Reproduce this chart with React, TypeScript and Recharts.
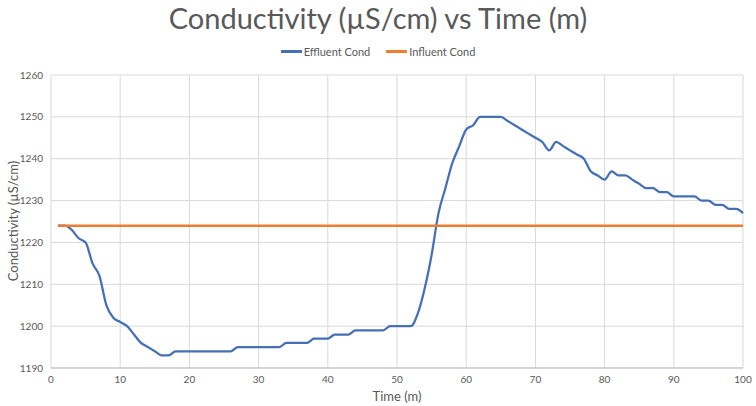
import React from "react";
import { LineChart, Line, XAxis, YAxis, CartesianGrid } from "recharts";

const TITLE = "Conductivity (µS/cm) vs Time (m)";
const X_LABEL = "Time (m)";
const Y_LABEL = "Conductivity (µS/cm)";

const SERIES = ["Effluent Cond", "Influent Cond"];
const COLORS = ["#4570B5", "#ED7D31"];

const TIME = [
  1, 2, 3, 4, 5, 6, 7, 8, 9, 10, 11, 12, 13, 14, 15, 16, 17, 18, 19, 20,
  21, 22, 23, 24, 25, 26, 27, 28, 29, 30, 31, 32, 33, 34, 35, 36, 37, 38, 39, 40,
  41, 42, 43, 44, 45, 46, 47, 48, 49, 50, 51, 52, 53, 54, 55, 56, 57, 58, 59, 60,
  61, 62, 63, 64, 65, 66, 67, 68, 69, 70, 71, 72, 73, 74, 75, 76, 77, 78, 79, 80,
  81, 82, 83, 84, 85, 86, 87, 88, 89, 90, 91, 92, 93, 94, 95, 96, 97, 98, 99, 100,
];

const EFFLUENT = [
  1224, 1224, 1223, 1221, 1220, 1215, 1212, 1205, 1202, 1201,
  1200, 1198, 1196, 1195, 1194, 1193, 1193, 1194, 1194, 1194,
  1194, 1194, 1194, 1194, 1194, 1194, 1195, 1195, 1195, 1195,
  1195, 1195, 1195, 1196, 1196, 1196, 1196, 1197, 1197, 1197,
  1198, 1198, 1198, 1199, 1199, 1199, 1199, 1199, 1200, 1200,
  1200, 1200, 1203, 1209, 1217, 1227, 1233, 1239, 1243, 1247,
  1248, 1250, 1250, 1250, 1250, 1249, 1248, 1247, 1246, 1245,
  1244, 1242, 1244, 1243, 1242, 1241, 1240, 1237, 1236, 1235,
  1237, 1236, 1236, 1235, 1234, 1233, 1233, 1232, 1232, 1231,
  1231, 1231, 1231, 1230, 1230, 1229, 1229, 1228, 1228, 1227,
];

const INFLUENT = [
  1224, 1224, 1224, 1224, 1224, 1224, 1224, 1224, 1224, 1224,
  1224, 1224, 1224, 1224, 1224, 1224, 1224, 1224, 1224, 1224,
  1224, 1224, 1224, 1224, 1224, 1224, 1224, 1224, 1224, 1224,
  1224, 1224, 1224, 1224, 1224, 1224, 1224, 1224, 1224, 1224,
  1224, 1224, 1224, 1224, 1224, 1224, 1224, 1224, 1224, 1224,
  1224, 1224, 1224, 1224, 1224, 1224, 1224, 1224, 1224, 1224,
  1224, 1224, 1224, 1224, 1224, 1224, 1224, 1224, 1224, 1224,
  1224, 1224, 1224, 1224, 1224, 1224, 1224, 1224, 1224, 1224,
  1224, 1224, 1224, 1224, 1224, 1224, 1224, 1224, 1224, 1224,
  1224, 1224, 1224, 1224, 1224, 1224, 1224, 1224, 1224, 1224,
];

const X_TICKS = [0, 10, 20, 30, 40, 50, 60, 70, 80, 90, 100];
const Y_TICKS = [1190, 1200, 1210, 1220, 1230, 1240, 1250, 1260];

const data = TIME.map((t, i) => ({ t, effluent: EFFLUENT[i], influent: INFLUENT[i] }));

const FONT = "Lato, 'Open Sans', sans-serif";
const TEXT = "#595959";

export default function App() {
  return (
    <div style={{ position: "absolute", left: 0, top: 0, width: 756, height: 406, background: "#fff", fontFamily: FONT }}>
      <div style={{ position: "absolute", top: 0, left: 0, width: 756, textAlign: "center", fontSize: 29, color: TEXT, lineHeight: "36px" }}>
        {TITLE}
      </div>
      <div style={{ position: "absolute", top: 45, left: 0, width: 756, display: "flex", justifyContent: "center", gap: 16, fontSize: 11, color: TEXT }}>
        {SERIES.map((name, i) => (
          <span key={name} style={{ display: "flex", alignItems: "center", gap: 2 }}>
            <span style={{ display: "inline-block", width: 21, height: 2.5, background: COLORS[i] }} />
            {name}
          </span>
        ))}
      </div>
      <div
        style={{
          position: "absolute", left: 13, top: 221, fontSize: 13, color: TEXT, whiteSpace: "nowrap",
          transform: "translate(-50%, -50%) rotate(-90deg)",
        }}
      >
        {Y_LABEL}
      </div>
      <div style={{ position: "absolute", top: 388, left: 397, transform: "translateX(-50%)", fontSize: 13, color: TEXT }}>
        {X_LABEL}
      </div>
      <div style={{ position: "absolute", left: 0, top: 0 }}>
        <LineChart width={756} height={406} data={data} margin={{ top: 75, right: 13, bottom: 0, left: 11 }}>
          <CartesianGrid stroke="#d9d9d9" strokeWidth={1} />
          <XAxis
            dataKey="t"
            type="number"
            domain={[0, 100]}
            ticks={X_TICKS}
            height={38}
            tickLine={false}
            axisLine={{ stroke: "#bfbfbf" }}
            tick={{ fontSize: 10, fill: TEXT, fontFamily: FONT }}
            interval={0}
          />
          <YAxis
            type="number"
            domain={[1190, 1260]}
            ticks={Y_TICKS}
            width={40}
            tickLine={false}
            axisLine={false}
            tick={{ fontSize: 10, fill: TEXT, fontFamily: FONT }}
            interval={0}
          />
          <Line
            dataKey="effluent"
            name={SERIES[0]}
            type="monotone"
            stroke={COLORS[0]}
            strokeWidth={2.25}
            dot={false}
            isAnimationActive={false}
          />
          <Line
            dataKey="influent"
            name={SERIES[1]}
            type="monotone"
            stroke={COLORS[1]}
            strokeWidth={2.5}
            dot={false}
            isAnimationActive={false}
          />
        </LineChart>
      </div>
    </div>
  );
}
